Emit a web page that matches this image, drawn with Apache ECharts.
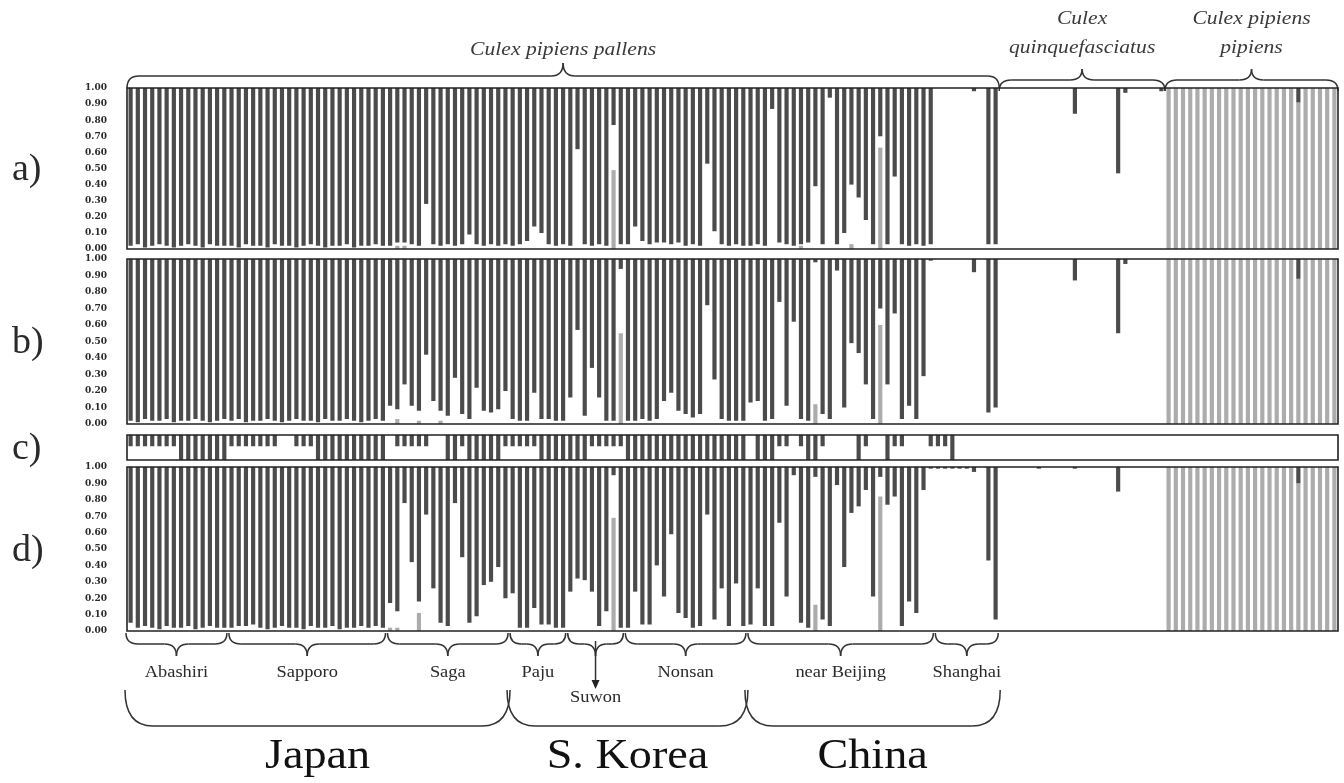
<!DOCTYPE html>
<html>
<head>
<meta charset="utf-8">
<script src="https://cdn.jsdelivr.net/npm/echarts@6/dist/echarts.min.js"></script>
<style>
  html, body { margin: 0; padding: 0; background: #fff; }
  #main { width: 1344px; height: 783px; }
</style>
</head>
<body>
<div id="main"></div>
<script>
// populations, in plot order (number of individuals in each)
const popNames = ['Abashiri', 'Sapporo', 'Saga', 'Paju', 'Suwon', 'Nonsan', 'near Beijing', 'Shanghai', 'quinquefasciatus', 'pipiens'];
const popSizes = [14, 22, 17, 8, 8, 17, 26, 9, 23, 24];
const countries = ['Japan', 'S. Korea', 'China'];
const countryPops = [[0, 2], [3, 5], [6, 7]];   // first / last population of each country

// panel a) : pallens membership (dark) and pipiens membership (light); the rest is quinquefasciatus (white)
const darkA = [
  0.98,0.97,0.99,0.98,0.97,0.98,0.99,0.98,0.97,0.98,0.99,0.97,0.98,0.98,
  0.98,0.99,0.97,0.98,0.98,0.99,0.97,0.98,0.98,0.99,0.98,0.97,0.98,0.99,0.98,0.98,0.97,0.99,0.98,0.98,0.97,0.98,
  0.98,0.96,0.96,0.97,0.98,0.72,0.97,0.98,0.97,0.98,0.97,0.91,0.97,0.98,0.97,0.98,0.97,
  0.98,0.97,0.95,0.86,0.90,0.97,0.98,0.97,
  0.98,0.38,0.97,0.98,0.97,0.98,0.23,0.97,
  0.97,0.86,0.95,0.97,0.96,0.96,0.97,0.96,0.98,0.97,0.98,0.47,0.89,0.97,0.98,0.97,0.98,
  0.98,0.97,0.98,0.13,0.96,0.97,0.98,0.97,0.96,0.61,0.97,0.06,0.97,0.90,0.60,0.68,0.82,0.97,0.30,0.97,0.55,0.97,0.98,0.97,0.98,0.97,
  0,0,0,0,0,0.02,0,0.97,0.97,
  0,0,0,0,0,0,0,0,0,0,0.16,0,0,0,0,0,0.53,0.03,0,0,0,0,0.02,
  0,0,0,0,0,0,0,0,0,0,0,0,0,0,0,0,0,0,0.09,0,0,0,0,0
];
const lightA = [
  0,0,0,0,0,0,0,0,0,0,0,0,0,0,
  0,0,0,0,0,0,0,0,0,0,0,0,0,0,0,0,0,0,0,0,0,0,
  0,0.02,0.02,0,0,0,0,0,0,0,0,0,0,0,0,0,0,
  0,0,0,0,0,0,0,0,
  0,0,0,0,0,0,0.49,0,
  0,0,0,0,0,0,0,0,0,0,0,0,0,0,0,0,0,
  0,0,0,0,0,0,0,0.02,0,0,0,0,0,0,0.03,0,0,0,0.63,0,0,0,0,0,0,0,
  0,0,0,0,0,0,0,0,0,
  0,0,0,0,0,0,0,0,0,0,0,0,0,0,0,0,0,0,0,0,0,0,0,
  1,1,1,1,1,1,1,1,1,1,1,1,1,1,1,1,1,1,0.91,1,1,1,1,1
];

// panel b)
const darkB = [
  0.98,0.99,0.97,0.98,0.98,0.97,0.99,0.98,0.98,0.97,0.98,0.99,0.98,0.97,
  0.98,0.97,0.99,0.98,0.98,0.97,0.98,0.99,0.98,0.97,0.98,0.98,0.99,0.97,0.98,0.98,0.97,0.98,0.99,0.98,0.97,0.98,
  0.89,0.91,0.76,0.89,0.92,0.58,0.86,0.92,0.95,0.72,0.94,0.97,0.78,0.92,0.93,0.91,0.80,
  0.97,0.98,0.98,0.81,0.97,0.97,0.98,0.98,
  0.84,0.43,0.95,0.66,0.84,0.98,0.98,0.06,
  0.98,0.98,0.97,0.98,0.97,0.86,0.81,0.92,0.94,0.96,0.94,0.28,0.73,0.97,0.98,0.98,0.98,
  0.87,0.86,0.98,0.97,0.26,0.89,0.38,0.97,0.98,0.02,0.94,0.97,0.07,0.90,0.51,0.57,0.76,0.97,0.30,0.76,0.33,0.97,0.89,0.97,0.71,0.01,
  0,0,0,0,0,0.08,0,0.93,0.90,
  0,0,0,0,0,0,0,0,0,0,0.13,0,0,0,0,0,0.45,0.03,0,0,0,0,0,
  0,0,0,0,0,0,0,0,0,0,0,0,0,0,0,0,0,0,0.12,0,0,0,0,0
];
const lightB = [
  0,0,0,0,0,0,0,0,0,0,0,0,0,0,
  0,0,0,0,0,0,0,0,0,0,0,0,0,0,0,0,0,0,0,0,0,0,
  0,0.03,0,0,0.02,0,0,0.02,0,0,0,0,0,0,0,0,0,
  0,0,0,0,0,0,0,0,
  0,0,0,0,0,0,0,0.55,
  0,0,0,0,0,0,0,0,0,0,0,0,0,0,0,0,0,
  0,0,0,0,0,0,0,0,0,0.12,0,0,0,0,0,0,0,0,0.60,0,0,0,0,0,0,0,
  0,0,0,0,0,0,0,0,0,
  0,0,0,0,0,0,0,0,0,0,0,0,0,0,0,0,0,0,0,0,0,0,0,
  1,1,1,1,1,1,1,1,1,1,1,1,1,1,1,1,1,1,0.88,1,1,1,1,1
];

// panel c) : strip, 0 = none, 0.45 = short mark, 1 = full mark
const stripC = [
  0.45,0.45,0.45,0.45,0.45,0.45,0.45,1,1,1,1,1,1,1,
  0.45,0.45,0.45,0.45,0.45,0.45,0.45,0,0,0.45,0.45,0.45,1,1,1,1,1,1,1,1,1,1,
  0,0.45,0.45,0.45,0.45,0.45,0,0,1,1,0.45,1,1,1,1,1,0.45,
  0.45,0.45,0.45,0.45,1,1,1,1,
  1,1,1,0.45,0.45,0.45,0.45,0.45,
  1,1,1,1,1,1,1,1,1,1,1,1,1,1,1,1,1,
  0,1,1,1,0.45,0.45,0,0.45,1,1,0.45,0,0,0,0,1,0.45,0,0,1,0.45,0.45,0,0,0,0.45,
  0.45,0.45,1,0,0,0,0,0,0,
  0,0,0,0,0,0,0,0,0,0,0,0,0,0,0,0,0,0,0,0,0,0,0,
  0,0,0,0,0,0,0,0,0,0,0,0,0,0,0,0,0,0,0,0,0,0,0,0
];

// panel d)
const darkD = [
  0.95,0.98,0.97,0.98,0.99,0.97,0.98,0.98,0.97,0.99,0.98,0.97,0.98,0.98,
  0.98,0.97,0.97,0.96,0.98,0.99,0.98,0.97,0.98,0.98,0.99,0.97,0.98,0.98,0.97,0.99,0.98,0.98,0.97,0.98,0.97,0.98,
  0.83,0.88,0.22,0.58,0.82,0.29,0.74,0.95,0.97,0.22,0.55,0.95,0.91,0.72,0.70,0.61,0.80,
  0.77,0.98,0.98,0.86,0.96,0.96,0.98,0.98,
  0.76,0.68,0.69,0.76,0.97,0.88,0.05,0.98,
  0.98,0.76,0.96,0.96,0.60,0.79,0.41,0.89,0.92,0.98,0.97,0.29,0.93,0.74,0.97,0.71,0.97,
  0.96,0.74,0.97,0.97,0.34,0.79,0.05,0.95,0.98,0.06,0.93,0.97,0.11,0.61,0.28,0.24,0.14,0.79,0.06,0.23,0.18,0.97,0.82,0.89,0.14,0.01,
  0.01,0.01,0.01,0.01,0.01,0.03,0,0.57,0.93,
  0,0,0,0,0,0.01,0,0,0,0,0.01,0,0,0,0,0,0.15,0,0,0,0,0,0,
  0,0,0,0,0,0,0,0,0,0,0,0,0,0,0,0,0,0,0.10,0,0,0,0,0
];
const lightD = [
  0,0,0,0,0,0,0,0,0,0,0,0,0,0,
  0,0,0,0,0,0,0,0,0,0,0,0,0,0,0,0,0,0,0,0,0,0,
  0.02,0.02,0,0,0.11,0,0,0,0,0,0,0,0,0,0,0,0,
  0,0,0,0,0,0,0,0,
  0,0,0,0,0,0,0.69,0,
  0,0,0,0,0,0,0,0,0,0,0,0,0,0,0,0,0,
  0,0,0,0,0,0,0,0,0,0.16,0,0,0,0,0,0,0,0,0.82,0,0,0,0,0,0,0,
  0,0,0,0,0,0,0,0,0,
  0,0,0,0,0,0,0,0,0,0,0,0,0,0,0,0,0,0,0,0,0,0,0,
  1,1,1,1,1,1,1,1,1,1,1,1,1,1,1,1,1,1,0.90,1,1,1,1,1
];

const DARK = '#4b4b4b';
const LIGHT = '#acacac';
const INK = '#2a2a2a';
const SERIF = '"Liberation Serif", "DejaVu Serif", serif';

const nInd = popSizes.reduce((a, b) => a + b, 0);
const individuals = Array.from({ length: nInd }, (_, i) => 'ind' + (i + 1));
const popStart = popSizes.map((_, k) => popSizes.slice(0, k).reduce((a, b) => a + b, 0));

const chart = echarts.init(document.getElementById('main'));

const grids = [
  { left: 127, right: 6, top: 88, height: 161 },
  { left: 127, right: 6, top: 259, height: 165 },
  { left: 127, right: 6, top: 435, height: 25 },
  { left: 127, right: 6, top: 467, height: 164 }
];

function valueAxis(gi, show) {
  return {
    type: 'value', gridIndex: gi, min: 0, max: 1, interval: 0.1, show: show,
    axisLine: { show: false }, axisTick: { show: false }, splitLine: { show: false },
    axisLabel: {
      margin: 20, fontSize: 9, fontWeight: 'bold', color: INK,
      fontFamily: '"DejaVu Serif", serif',
      formatter: v => v.toFixed(2)
    }
  };
}

function bars(gi, name, data, color) {
  return {
    type: 'bar', name: name, xAxisIndex: gi, yAxisIndex: gi, stack: 'p' + gi,
    data: data, barCategoryGap: '42%', itemStyle: { color: color },
    silent: true
  };
}

// the quinquefasciatus share is drawn as an empty (transparent) segment
function panel(gi, dark, light) {
  const white = dark.map((d, i) => +Math.max(0, 1 - d - light[i]).toFixed(2));
  return [
    bars(gi, 'pipiens', light, LIGHT),
    bars(gi, 'quinquefasciatus', white, 'rgba(255,255,255,0)'),
    bars(gi, 'pallens', dark, DARK)
  ];
}

const option = {
  backgroundColor: '#fff',
  animation: false,
  grid: grids,
  xAxis: [0, 1, 2, 3].map(gi => ({ type: 'category', gridIndex: gi, data: individuals, show: false })),
  yAxis: [valueAxis(0, true), valueAxis(1, true), valueAxis(2, false), valueAxis(3, true)],
  series: [].concat(
    panel(0, darkA, lightA),
    panel(1, darkB, lightB),
    [bars(2, 'blank', stripC.map(v => +(1 - v).toFixed(2)), 'rgba(255,255,255,0)'), bars(2, 'mark', stripC, DARK)],
    panel(3, darkD, lightD)
  )
};
chart.setOption(option);

// ---- annotations (frames, braces and labels) placed from the axis scale ----
const c0 = chart.convertToPixel({ gridIndex: 3 }, [0, 0])[0];
const c1 = chart.convertToPixel({ gridIndex: 3 }, [1, 0])[0];
const bw = c1 - c0;
const edge = k => c0 + bw * (k - 0.5);

const lineStyle = { stroke: '#333', fill: 'none', lineWidth: 1.5 };
function seg(xa, ya, xb, yb) {
  return { type: 'line', silent: true, shape: { x1: xa, y1: ya, x2: xb, y2: yb }, style: Object.assign({}, lineStyle) };
}
function curve(xa, ya, xb, yb, cx, cy) {
  return { type: 'bezierCurve', silent: true,
           shape: { x1: xa, y1: ya, x2: xb, y2: yb, cpx1: cx, cpy1: cy }, style: Object.assign({}, lineStyle) };
}
// curly brace: ends at y0, body at y1, tip at yTip
function brace(x1, x2, y0, y1, yTip) {
  const xm = (x1 + x2) / 2;
  const r = Math.min(12, (x2 - x1) / 5);
  return [
    curve(x1, y0, x1 + r, y1, x1, y1),
    seg(x1 + r, y1, xm - r, y1),
    curve(xm - r, y1, xm, yTip, xm, y1),
    curve(xm, yTip, xm + r, y1, xm, y1),
    seg(xm + r, y1, x2 - r, y1),
    curve(x2 - r, y1, x2, y0, x2, y1)
  ];
}
// wide open bracket without a tip
function bowl(x1, x2, y0, y1) {
  const r = 28;
  return [
    curve(x1, y0, x1 + r, y1, x1, y1),
    seg(x1 + r, y1, x2 - r, y1),
    curve(x2 - r, y1, x2, y0, x2, y1)
  ];
}
function text(str, x, y, font, fill, sx) {
  return {
    type: 'text', x: x, y: y, scaleX: sx || 1, silent: true,
    style: { text: str, font: font, fill: fill || INK, align: 'center', verticalAlign: 'middle',
             textAlign: 'center', textVerticalAlign: 'middle' }
  };
}

let g = [];
// panel frames on top of the bars
grids.forEach((gr, gi) => {
  const p0 = chart.convertToPixel({ gridIndex: gi }, [0, 1]);
  const p1 = chart.convertToPixel({ gridIndex: gi }, [nInd - 1, 0]);
  g.push({ type: 'rect', silent: true, z: 50,
           shape: { x: p0[0] - bw / 2, y: p0[1], width: p1[0] - p0[0] + bw, height: p1[1] - p0[1] },
           style: { fill: 'none', stroke: '#222', lineWidth: 1.6 } });
});

// panel letters
[['a)', 0], ['b)', 1], ['c)', 2], ['d)', 3]].forEach(([s, gi]) => {
  const top = grids[gi].top, h = grids[gi].height;
  g.push({ type: 'text', x: 12, y: top + h / 2 + 2, silent: true,
           style: { text: s, font: '38px ' + SERIF, fill: INK, verticalAlign: 'middle', textVerticalAlign: 'middle' } });
});

// species braces on top
const nPallens = popSizes.slice(0, 8).reduce((a, b) => a + b, 0);
const species = [
  { from: 0, to: nPallens, lines: ['Culex pipiens pallens'], y0: 88, y1: 76, tip: 63 },
  { from: nPallens, to: popStart[9], lines: ['Culex', 'quinquefasciatus'], y0: 91, y1: 80, tip: 69 },
  { from: popStart[9], to: nInd, lines: ['Culex pipiens', 'pipiens'], y0: 91, y1: 80, tip: 69 }
];
species.forEach(s => {
  const x1 = edge(s.from), x2 = edge(s.to);
  g = g.concat(brace(x1, x2, s.y0, s.y1, s.tip));
  const xm = (x1 + x2) / 2;
  if (s.lines.length === 1) {
    g.push(text(s.lines[0], xm, 50, 'italic 18px ' + SERIF, '#3a3a3a', 1.2));
  } else {
    g.push(text(s.lines[0], xm, 19, 'italic 18px ' + SERIF, '#3a3a3a', 1.2));
    g.push(text(s.lines[1], xm, 48, 'italic 18px ' + SERIF, '#3a3a3a', 1.2));
  }
});

// location braces under d)
for (let k = 0; k < 8; k++) {
  const x1 = edge(popStart[k]) + (k === 0 ? -1 : 1), x2 = edge(popStart[k] + popSizes[k]) - 1;
  g = g.concat(brace(x1, x2, 633, 644, 656));
  const xm = (x1 + x2) / 2;
  if (popNames[k] === 'Suwon') {
    g.push(seg(xm, 641, xm, 683));
    g.push({ type: 'polygon', silent: true,
             shape: { points: [[xm - 4, 680], [xm + 4, 680], [xm, 689]] },
             style: { fill: '#222', stroke: 'none' } });
    g.push(text('Suwon', xm, 698, '16px ' + SERIF, INK, 1.15));
  } else {
    g.push(text(popNames[k], xm, 673, '16px ' + SERIF, INK, 1.15));
  }
}

// country brackets
countries.forEach((name, j) => {
  const [p1, p2] = countryPops[j];
  const x1 = edge(popStart[p1]) - 2, x2 = edge(popStart[p2] + popSizes[p2]) + 1;
  g = g.concat(bowl(x1, x2, 690, 726));
  g.push(text(name, (x1 + x2) / 2, 757, '42px ' + SERIF, '#111', 1.1));
});

chart.setOption({ graphic: g });
</script>
</body>
</html>
